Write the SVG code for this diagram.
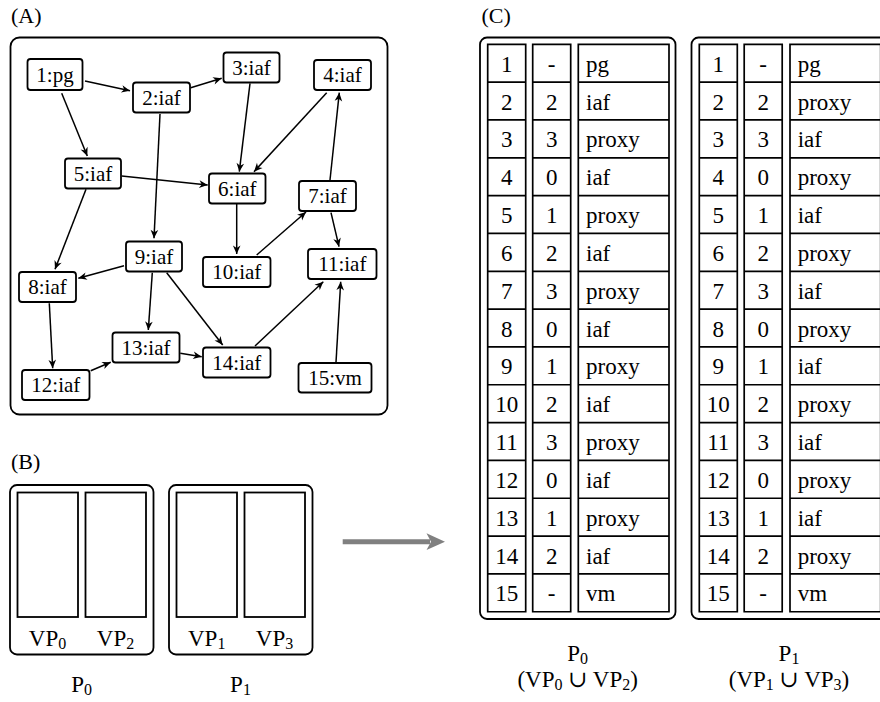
<svg xmlns="http://www.w3.org/2000/svg" width="880" height="702" viewBox="0 0 880 702" font-family="'Liberation Serif', 'Times New Roman', 'DejaVu Serif', serif">
<style>
text{font-family:'Liberation Serif','Times New Roman','DejaVu Serif',serif;fill:#000}
.lbl{font-size:22px}
.nd rect{fill:#fff;stroke:#000;stroke-width:1.8}
.nd text{font-size:21px;text-anchor:middle}
.box{fill:none;stroke:#000;stroke-width:1.8}
.edge line{stroke:#000;stroke-width:1.5;marker-end:url(#ah)}
.grid{fill:none;stroke:#000;stroke-width:1.7}
.tc{font-size:23px;text-anchor:middle}
.tl{font-size:23px}
.mid{font-size:23px;text-anchor:middle}
.sub{font-size:16px}
</style>
<defs>
<marker id="ah" markerUnits="userSpaceOnUse" markerWidth="12" markerHeight="10" viewBox="-9 -5 10 10" refX="0" refY="0" orient="auto">
<path d="M0,0 L-8.5,-3.8 L-6,0 L-8.5,3.8 Z" fill="#000"/>
</marker>
<path id="g38" d="M0,44.3H38V611.75H0Z M0,82.13H38 M0,119.96H38 M0,157.79H38 M0,195.62H38 M0,233.45H38 M0,271.28H38 M0,309.11H38 M0,346.94H38 M0,384.77H38 M0,422.6H38 M0,460.43H38 M0,498.26H38 M0,536.09H38 M0,573.92H38"/>
<path id="g91" d="M0,44.3H90.7V611.75H0Z M0,82.13H90.7 M0,119.96H90.7 M0,157.79H90.7 M0,195.62H90.7 M0,233.45H90.7 M0,271.28H90.7 M0,309.11H90.7 M0,346.94H90.7 M0,384.77H90.7 M0,422.6H90.7 M0,460.43H90.7 M0,498.26H90.7 M0,536.09H90.7 M0,573.92H90.7"/>
</defs>
<rect width="880" height="702" fill="#fff"/>

<!-- Panel A -->
<text class="lbl" x="11" y="22.5">(A)</text>
<rect class="box" x="10.5" y="37.5" width="377" height="377" rx="9"/>

<g id="edges" class="edge">
<line x1="85" y1="81" x2="130" y2="90.7"/>
<line x1="190.7" y1="87.7" x2="221.7" y2="78.3"/>
<line x1="61.7" y1="93.3" x2="87.3" y2="156"/>
<line x1="250" y1="83.3" x2="239.3" y2="171.7"/>
<line x1="326.7" y1="92.7" x2="254" y2="171.7"/>
<line x1="330" y1="180" x2="339.3" y2="92.7"/>
<line x1="121.7" y1="176" x2="207.7" y2="185"/>
<line x1="160" y1="114" x2="154" y2="238.3"/>
<line x1="86" y1="189.3" x2="55" y2="269.3"/>
<line x1="236.7" y1="204" x2="236.7" y2="254"/>
<line x1="256.7" y1="255" x2="306" y2="212"/>
<line x1="331" y1="212.7" x2="339" y2="246.7"/>
<line x1="124" y1="265.7" x2="78.3" y2="278.3"/>
<line x1="152.3" y1="272.7" x2="148.3" y2="330"/>
<line x1="166.7" y1="272.7" x2="222.7" y2="345"/>
<line x1="49.3" y1="303.3" x2="52.7" y2="368.3"/>
<line x1="90.7" y1="370.7" x2="110.7" y2="362.3"/>
<line x1="180.3" y1="353.3" x2="201.7" y2="356.7"/>
<line x1="255" y1="346" x2="323.3" y2="281.7"/>
<line x1="336" y1="362.3" x2="340.7" y2="281.7"/>
</g>

<g id="n1" class="nd"><rect x="27.5" y="59" width="55" height="31" rx="3"/><text x="55" y="81.5">1:pg</text></g>
<g id="n2" class="nd"><rect x="133" y="82.5" width="57" height="30" rx="3"/><text x="161.5" y="104.5">2:iaf</text></g>
<g id="n3" class="nd"><rect x="223.5" y="52.5" width="56" height="30" rx="3"/><text x="251.5" y="74.5">3:iaf</text></g>
<g id="n4" class="nd"><rect x="314" y="60" width="57" height="30" rx="3"/><text x="342.5" y="82">4:iaf</text></g>
<g id="n5" class="nd"><rect x="65" y="158.5" width="56" height="30" rx="3"/><text x="93" y="180.5">5:iaf</text></g>
<g id="n6" class="nd"><rect x="209" y="173.5" width="56.5" height="30" rx="3"/><text x="237.3" y="195.5">6:iaf</text></g>
<g id="n7" class="nd"><rect x="299" y="181" width="57" height="30" rx="3"/><text x="327.5" y="203">7:iaf</text></g>
<g id="n8" class="nd"><rect x="19" y="272" width="57" height="30" rx="3"/><text x="47.5" y="294">8:iaf</text></g>
<g id="n9" class="nd"><rect x="126" y="241.5" width="56" height="30" rx="3"/><text x="154" y="263.5">9:iaf</text></g>
<g id="n10" class="nd"><rect x="203" y="257" width="67.5" height="30" rx="3"/><text x="236.8" y="279">10:iaf</text></g>
<g id="n11" class="nd"><rect x="308" y="249" width="68.5" height="30" rx="3"/><text x="342.3" y="271">11:iaf</text></g>
<g id="n12" class="nd"><rect x="22" y="370" width="67.5" height="30" rx="3"/><text x="55.8" y="392">12:iaf</text></g>
<g id="n13" class="nd"><rect x="112.5" y="332.5" width="67" height="30" rx="3"/><text x="146" y="354.5">13:iaf</text></g>
<g id="n14" class="nd"><rect x="203" y="347.5" width="67.5" height="30" rx="3"/><text x="236.8" y="369.5">14:iaf</text></g>
<g id="n15" class="nd"><rect x="298.5" y="363" width="73" height="29.5" rx="3"/><text x="335" y="385">15:vm</text></g>

<!-- Panel B -->
<text class="lbl" x="11" y="469">(B)</text>
<g id="bP0">
<rect class="box" x="10" y="485" width="143.5" height="169.5" rx="7"/>
<rect class="box" x="17.5" y="492.5" width="60.5" height="124.5"/>
<rect class="box" x="85.5" y="492.5" width="60.5" height="124.5"/>
<text class="mid" x="47.5" y="646">VP<tspan class="sub" dy="3">0</tspan></text>
<text class="mid" x="115.5" y="646">VP<tspan class="sub" dy="3">2</tspan></text>
<text class="mid" x="81.7" y="691.5">P<tspan class="sub" dy="3">0</tspan></text>
</g>
<g id="bP1">
<rect class="box" x="169" y="485" width="143.5" height="169.5" rx="7"/>
<rect class="box" x="176.5" y="492.5" width="60.5" height="124.5"/>
<rect class="box" x="244.5" y="492.5" width="60.5" height="124.5"/>
<text class="mid" x="206.7" y="646">VP<tspan class="sub" dy="3">1</tspan></text>
<text class="mid" x="274.5" y="646">VP<tspan class="sub" dy="3">3</tspan></text>
<text class="mid" x="240.5" y="691.5">P<tspan class="sub" dy="3">1</tspan></text>
</g>

<g id="bigArrow">
<line x1="342.7" y1="541.7" x2="430" y2="541.7" stroke="#808080" stroke-width="5"/>
<path d="M445,541.7 L426.5,533.3 L431,541.7 L426.5,550.1 Z" fill="#808080"/>
</g>

<!-- Panel C -->
<text class="lbl" x="481.5" y="23">(C)</text>
<g id="cP0">
<rect class="box" x="480" y="37.5" width="195.5" height="581.5" rx="7"/>
<use href="#g38" x="487.7" class="grid"/>
<use href="#g38" x="532.7" class="grid"/>
<use href="#g91" x="578.3" class="grid"/>
<g class="tc">
<text x="506.7" y="71.7">1</text><text x="506.7" y="109.5">2</text><text x="506.7" y="147.4">3</text><text x="506.7" y="185.2">4</text><text x="506.7" y="223">5</text><text x="506.7" y="260.9">6</text><text x="506.7" y="298.7">7</text><text x="506.7" y="336.5">8</text><text x="506.7" y="374.3">9</text><text x="506.7" y="412.2">10</text><text x="506.7" y="450">11</text><text x="506.7" y="487.8">12</text><text x="506.7" y="525.7">13</text><text x="506.7" y="563.5">14</text><text x="506.7" y="601.3">15</text>
<text x="551.7" y="71.7">-</text><text x="551.7" y="109.5">2</text><text x="551.7" y="147.4">3</text><text x="551.7" y="185.2">0</text><text x="551.7" y="223">1</text><text x="551.7" y="260.9">2</text><text x="551.7" y="298.7">3</text><text x="551.7" y="336.5">0</text><text x="551.7" y="374.3">1</text><text x="551.7" y="412.2">2</text><text x="551.7" y="450">3</text><text x="551.7" y="487.8">0</text><text x="551.7" y="525.7">1</text><text x="551.7" y="563.5">2</text><text x="551.7" y="601.3">-</text>
</g>
<g class="tl">
<text x="586" y="71.7">pg</text><text x="586" y="109.5">iaf</text><text x="586" y="147.4">proxy</text><text x="586" y="185.2">iaf</text><text x="586" y="223">proxy</text><text x="586" y="260.9">iaf</text><text x="586" y="298.7">proxy</text><text x="586" y="336.5">iaf</text><text x="586" y="374.3">proxy</text><text x="586" y="412.2">iaf</text><text x="586" y="450">proxy</text><text x="586" y="487.8">iaf</text><text x="586" y="525.7">proxy</text><text x="586" y="563.5">iaf</text><text x="586" y="601.3">vm</text>
</g>
<text class="mid" x="577.7" y="661">P<tspan class="sub" dy="3">0</tspan></text>
<text class="mid" x="577.7" y="687">(VP<tspan class="sub" dy="3">0</tspan><tspan dy="-3"> ∪ VP</tspan><tspan class="sub" dy="3">2</tspan><tspan dy="-3">)</tspan></text>
</g>
<g id="cP1">
<rect class="box" x="691.5" y="37.5" width="195.5" height="581.5" rx="7"/>
<use href="#g38" x="699.3" class="grid"/>
<use href="#g38" x="744.2" class="grid"/>
<use href="#g91" x="790" class="grid"/>
<g class="tc">
<text x="718.3" y="71.7">1</text><text x="718.3" y="109.5">2</text><text x="718.3" y="147.4">3</text><text x="718.3" y="185.2">4</text><text x="718.3" y="223">5</text><text x="718.3" y="260.9">6</text><text x="718.3" y="298.7">7</text><text x="718.3" y="336.5">8</text><text x="718.3" y="374.3">9</text><text x="718.3" y="412.2">10</text><text x="718.3" y="450">11</text><text x="718.3" y="487.8">12</text><text x="718.3" y="525.7">13</text><text x="718.3" y="563.5">14</text><text x="718.3" y="601.3">15</text>
<text x="763.2" y="71.7">-</text><text x="763.2" y="109.5">2</text><text x="763.2" y="147.4">3</text><text x="763.2" y="185.2">0</text><text x="763.2" y="223">1</text><text x="763.2" y="260.9">2</text><text x="763.2" y="298.7">3</text><text x="763.2" y="336.5">0</text><text x="763.2" y="374.3">1</text><text x="763.2" y="412.2">2</text><text x="763.2" y="450">3</text><text x="763.2" y="487.8">0</text><text x="763.2" y="525.7">1</text><text x="763.2" y="563.5">2</text><text x="763.2" y="601.3">-</text>
</g>
<g class="tl">
<text x="797.7" y="71.7">pg</text><text x="797.7" y="109.5">proxy</text><text x="797.7" y="147.4">iaf</text><text x="797.7" y="185.2">proxy</text><text x="797.7" y="223">iaf</text><text x="797.7" y="260.9">proxy</text><text x="797.7" y="298.7">iaf</text><text x="797.7" y="336.5">proxy</text><text x="797.7" y="374.3">iaf</text><text x="797.7" y="412.2">proxy</text><text x="797.7" y="450">iaf</text><text x="797.7" y="487.8">proxy</text><text x="797.7" y="525.7">iaf</text><text x="797.7" y="563.5">proxy</text><text x="797.7" y="601.3">vm</text>
</g>
<text class="mid" x="789" y="661">P<tspan class="sub" dy="3">1</tspan></text>
<text class="mid" x="789" y="687">(VP<tspan class="sub" dy="3">1</tspan><tspan dy="-3"> ∪ VP</tspan><tspan class="sub" dy="3">3</tspan><tspan dy="-3">)</tspan></text>
</g>
</svg>
